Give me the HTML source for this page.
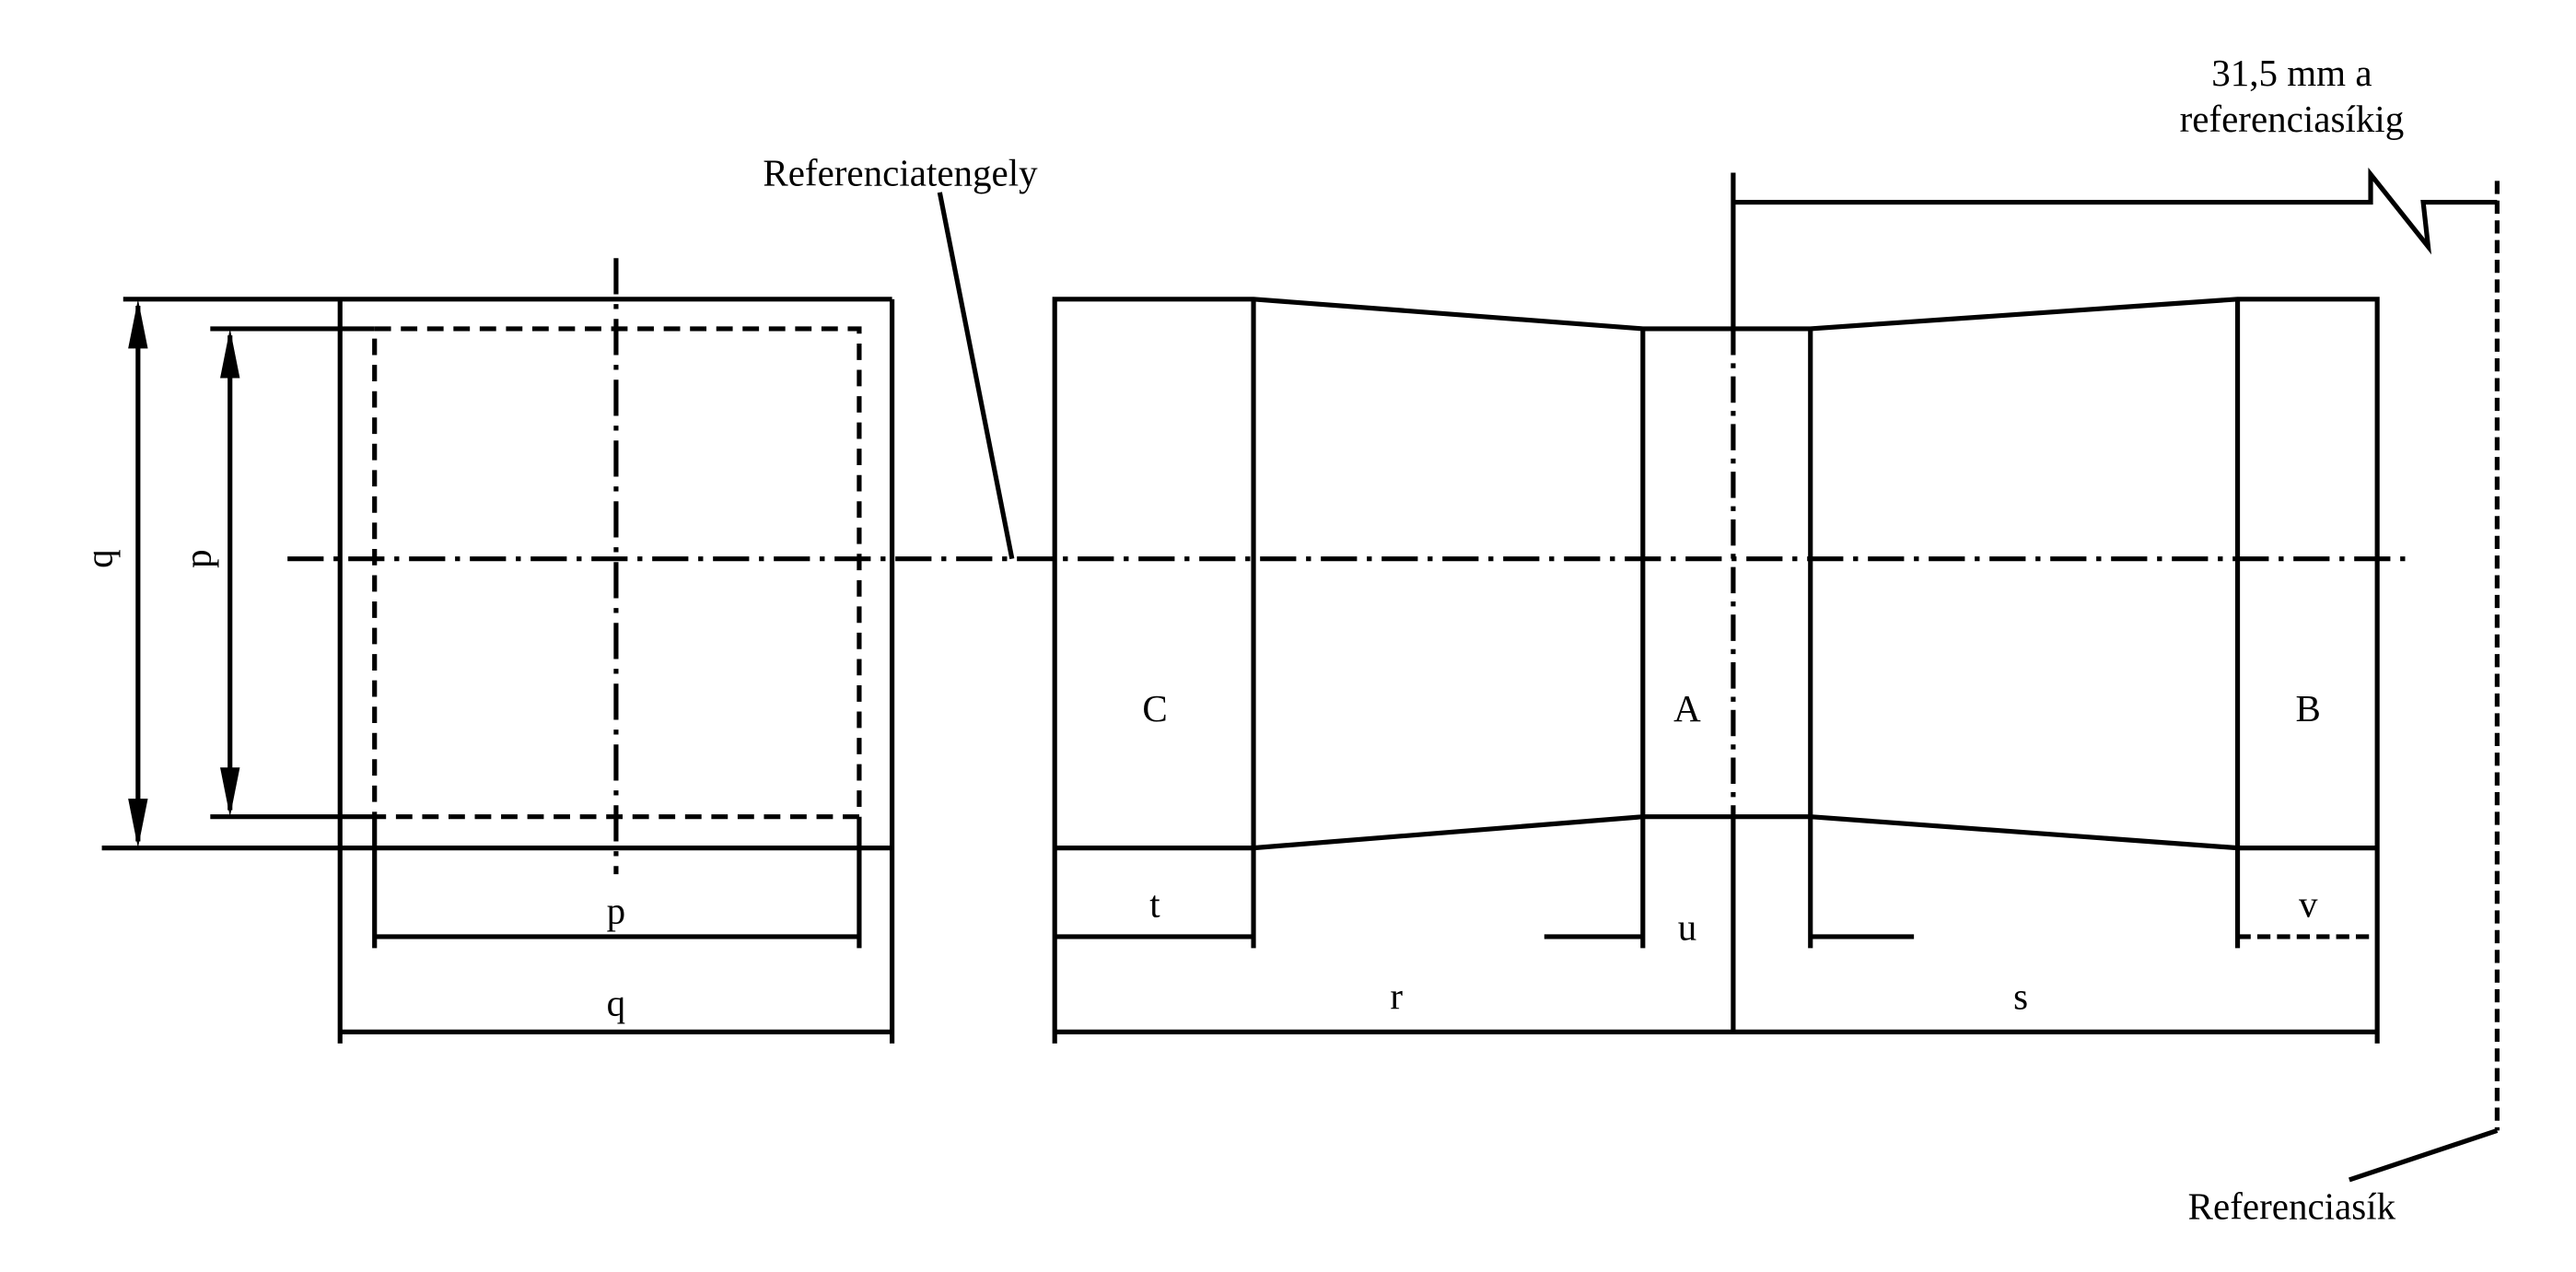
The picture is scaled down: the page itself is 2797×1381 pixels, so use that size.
<!DOCTYPE html>
<html><head><meta charset="utf-8"><style>html,body{margin:0;padding:0;background:#fff}svg{display:block}</style></head>
<body>
<svg width="2797" height="1381" viewBox="0 0 1568 774" xmlns="http://www.w3.org/2000/svg">
<g fill="none" stroke="#000" stroke-width="2.9">
<line x1="75" y1="182" x2="543" y2="182"/>
<line x1="62" y1="516" x2="543" y2="516"/>
<line x1="207" y1="182" x2="207" y2="635"/>
<line x1="543" y1="182" x2="543" y2="635"/>
<line x1="128" y1="200" x2="228" y2="200"/>
<line x1="128" y1="497" x2="228" y2="497"/>
<rect x="228" y="200" width="295" height="297" stroke-dasharray="10,6"/>
<line x1="228" y1="497" x2="228" y2="577"/>
<line x1="523" y1="497" x2="523" y2="577"/>
<line x1="228" y1="570" x2="523" y2="570"/>
<line x1="207" y1="628" x2="543" y2="628"/>
<line x1="375" y1="157" x2="375" y2="532" stroke-dasharray="22,6,3,6"/>
<line x1="84" y1="186" x2="84" y2="512"/>
<line x1="140" y1="204" x2="140" y2="493"/>
<path d="M84,182 L78,212 L90,212 z M84,516 L78,486 L90,486 z M140,200 L134,230 L146,230 z M140,497 L134,467 L146,467 z" fill="#000" stroke="none"/>
<line x1="175" y1="340" x2="1470" y2="340" stroke-dasharray="22,6,3,6"/>
<line x1="572" y1="117" x2="616" y2="340"/>
<path d="M642,635 L642,182 L763,182 L1000,200 L1102,200 L1362,182 L1447,182 L1447,635"/>
<path d="M642,516 L763,516 L1000,497 L1102,497 L1362,516 L1447,516"/>
<line x1="763" y1="182" x2="763" y2="577"/>
<line x1="1000" y1="200" x2="1000" y2="577"/>
<line x1="1102" y1="200" x2="1102" y2="577"/>
<line x1="1362" y1="182" x2="1362" y2="577"/>
<line x1="642" y1="570" x2="763" y2="570"/>
<line x1="940" y1="570" x2="1000" y2="570"/>
<line x1="1102" y1="570" x2="1165" y2="570"/>
<line x1="1362" y1="570" x2="1447" y2="570" stroke-dasharray="8,4"/>
<line x1="642" y1="628" x2="1447" y2="628"/>
<line x1="1055" y1="105" x2="1055" y2="200"/>
<line x1="1055" y1="200" x2="1055" y2="497" stroke-dasharray="16,5,3,5"/>
<line x1="1055" y1="497" x2="1055" y2="628"/>
<path d="M1055,123 L1443,123 L1443,106 L1478,150 L1475,123 L1520,123"/>
<line x1="1520" y1="110" x2="1520" y2="688" stroke-dasharray="8,4"/>
<line x1="1520" y1="688" x2="1430" y2="718"/>
</g>
<g font-family="Liberation Serif, serif" font-size="23" fill="#000" text-anchor="middle">
<text x="548" y="113">Referenciatengely</text>
<text x="1395" y="52">31,5 mm a</text>
<text x="1395" y="80">referenciasíkig</text>
<text x="1395" y="742">Referenciasík</text>
<text x="703" y="439">C</text>
<text x="1027" y="439">A</text>
<text x="1405" y="439">B</text>
<text x="703" y="558">t</text>
<text x="1027" y="572">u</text>
<text x="1405" y="558">v</text>
<text x="850" y="614">r</text>
<text x="1230" y="614">s</text>
<text x="375" y="562">p</text>
<text x="375" y="618">q</text>
<text transform="translate(68,340) rotate(-90)">q</text>
<text transform="translate(128,340) rotate(-90)">p</text>
</g>
</svg>
</body></html>
